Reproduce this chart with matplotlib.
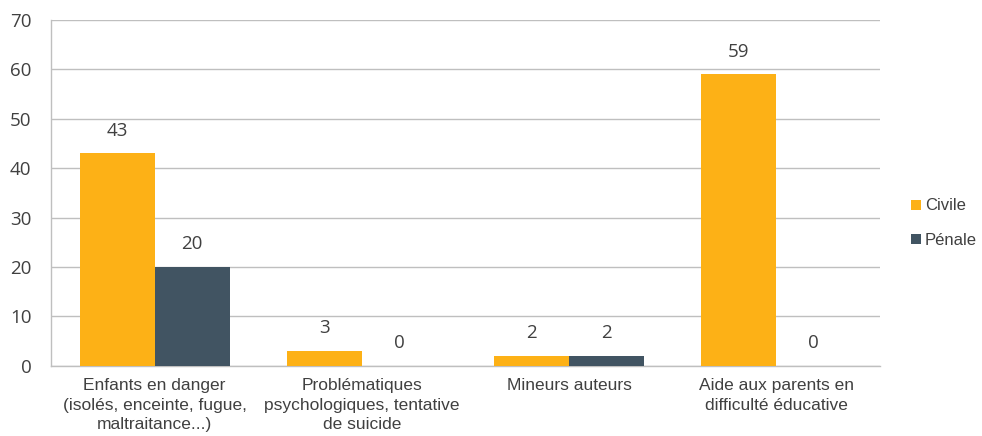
import numpy as np
import matplotlib
matplotlib.use("Agg")
import matplotlib.pyplot as plt

# Données
categories = [
    "Enfants en danger\n(isolés, enceinte, fugue,\nmaltraitance...)",
    "Problématiques\npsychologiques, tentative\nde suicide",
    "Mineurs auteurs",
    "Aide aux parents en\ndifficulté éducative",
]
civile = [43, 3, 2, 59]
penale = [20, 0, 2, 0]
series_names = ["Civile", "Pénale"]

ORANGE = "#FDB116"
ARDOISE = "#415462"
TEXTE = "#404040"
GRILLE = "#BFBFBF"

fig = plt.figure(figsize=(9.82, 4.36), dpi=100)
ax = fig.add_axes([0.052, 0.161, 0.844, 0.793])

x = np.arange(len(categories))
w = 0.362
b1 = ax.bar(x - w / 2, civile, w, color=ORANGE, label=series_names[0], zorder=3)
b2 = ax.bar(x + w / 2, penale, w, color=ARDOISE, label=series_names[1], zorder=3)

for bars, vals in ((b1, civile), (b2, penale)):
    for rect, v in zip(bars, vals):
        ax.text(rect.get_x() + rect.get_width() / 2, v + 4.6, str(v),
                ha="center", va="center", fontsize=13.5, color=TEXTE,
                family="Open Sans")

ax.set_xlim(-0.5, len(categories) - 0.5)
ax.set_ylim(0, 70)
ax.set_yticks(range(0, 71, 10))
ax.yaxis.grid(True, color=GRILLE, linewidth=1, zorder=0)
ax.set_axisbelow(True)

for s in ("top", "right"):
    ax.spines[s].set_visible(False)
for s in ("left", "bottom"):
    ax.spines[s].set_color(GRILLE)
    ax.spines[s].set_linewidth(1)

ax.tick_params(axis="both", length=0)
ax.tick_params(axis="y", pad=14)
ax.tick_params(axis="x", pad=9)
ax.set_xticks(x)
ax.set_xticklabels(categories, fontsize=12.5, color=TEXTE, family="Liberation Sans",
                   linespacing=1.35)
for lab in ax.get_yticklabels():
    lab.set_fontsize(13.5)
    lab.set_color(TEXTE)
    lab.set_family("Open Sans")

ax.legend(loc="center left", bbox_to_anchor=(1.02, 0.413), frameon=False,
          handlelength=0.55, handleheight=0.55, handletextpad=0.25,
          labelspacing=1.15, prop={"family": "Liberation Sans", "size": 12},
          labelcolor=TEXTE)

fig.savefig("out.png", dpi=100)
